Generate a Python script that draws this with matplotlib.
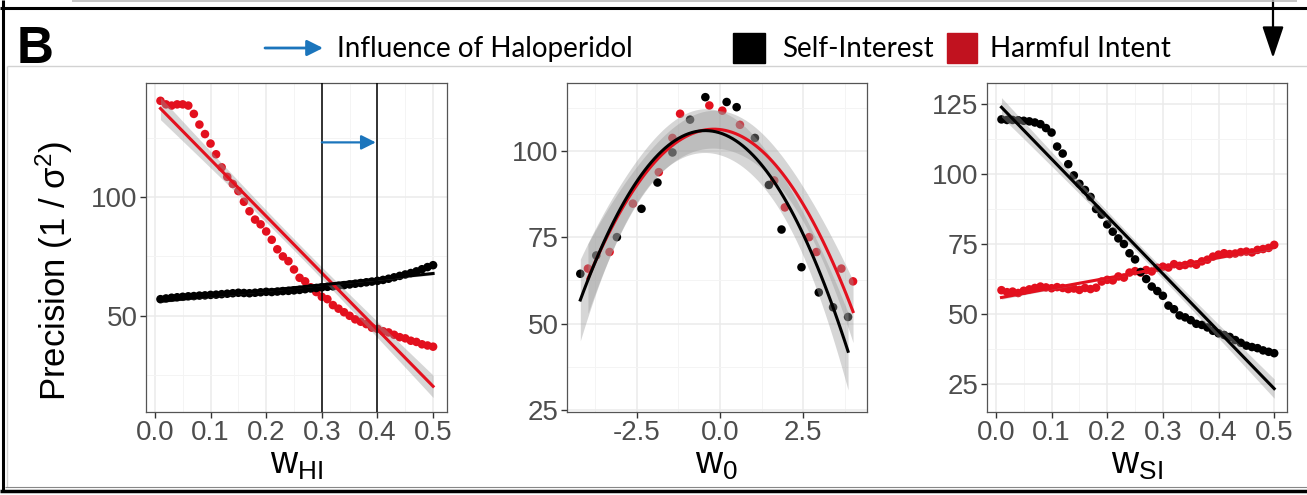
import numpy as np
import matplotlib
matplotlib.use('Agg')
import matplotlib.pyplot as plt
from matplotlib.lines import Line2D
from matplotlib.patches import Rectangle, FancyArrowPatch

# weights used in the outer panels
w_grid = [0.01, 0.02, 0.03, 0.04, 0.05, 0.06, 0.07, 0.08, 0.09, 0.10,
          0.11, 0.12, 0.13, 0.14, 0.15, 0.16, 0.17, 0.18, 0.19, 0.20,
          0.21, 0.22, 0.23, 0.24, 0.25, 0.26, 0.27, 0.28, 0.29, 0.30,
          0.31, 0.32, 0.33, 0.34, 0.35, 0.36, 0.37, 0.38, 0.39, 0.40,
          0.41, 0.42, 0.43, 0.44, 0.45, 0.46, 0.47, 0.48, 0.49, 0.50]

# panel 1: precision vs w_HI
hi_red = [140.5, 139, 138.5, 139, 139, 138.5, 135, 130.5, 126.5, 122.5,
          118, 112.5, 108.5, 105.5, 102.5, 98, 94, 90.5, 88.5, 85.5,
          82, 78, 75, 73, 69.5, 66, 64.5, 62, 60, 58,
          57, 54.5, 53, 51.5, 50, 48.5, 47.5, 46.5, 45, 44.5,
          43.5, 43, 42, 41, 40.5, 39.5, 39, 38, 37.5, 37]
hi_black = [57, 57.3, 57.6, 57.8, 58, 58.2, 58.3, 58.5, 58.6, 58.8,
            58.9, 59.1, 59.3, 59.5, 59.7, 59.6, 59.5, 59.7, 59.9, 60.1,
            60, 60.2, 60.4, 60.5, 60.7, 60.9, 61.2, 61.5, 61.7, 62,
            62.2, 62.4, 62.6, 62.9, 63.2, 63.5, 63.8, 64.1, 64.4, 64.7,
            65.1, 65.6, 66.2, 66.8, 67.4, 68, 68.7, 69.6, 70.5, 71.3]

# panel 2: precision vs w_0
w0_black_x = [-4.2, -3.72, -3.1, -2.36, -1.88, -1.43, -0.9, -0.44, 0.2, 0.5,
              1.05, 1.47, 1.85, 2.45, 2.97, 3.4, 3.85]
w0_black_y = [64.4, 69.7, 75, 83.2, 90.8, 99.5, 109, 115.5, 114.1, 112.6,
              103.7, 90.1, 77.2, 66.3, 59, 54.7, 51.9]
w0_red_x = [-3.97, -3.32, -2.62, -1.84, -1.43, -1.2, -0.32, 0.07, 0.6, 1.63,
            1.95, 2.68, 2.9, 3.65, 4.0]
w0_red_y = [65.9, 70.7, 84.7, 93.8, 103.7, 110.7, 113.1, 111.6, 107.5, 91.4,
            83.6, 75, 70.7, 65.9, 62.2]

# panel 3: precision vs w_SI
si_black = [119.5, 119.3, 119.3, 119.2, 119, 118.8, 118.4, 117.8, 116.4, 114.8,
            109.8, 107.3, 103.5, 99.5, 96.5, 94.3, 91.8, 87.5, 85.5, 82,
            79.4, 77, 75, 71.7, 69.5, 65, 62.5, 59.8, 58.2, 56.5,
            53, 51.7, 49.5, 48.8, 47.8, 46.5, 46.1, 45.2, 44, 43.1,
            42.5, 41.8, 40.7, 39.7, 38.7, 38.2, 37.8, 37, 36.5, 36]
si_red = [58.5, 57.8, 58, 57.5, 58.3, 58.8, 59.3, 59.8, 59.5, 59.2,
          59.6, 59.3, 58.9, 59.1, 58.6, 59.3, 58.9, 59.4, 61.6, 62.2,
          62, 63.4, 63, 64.8, 65.3, 64.8, 65.7, 65.2, 66.5, 66.9,
          66.6, 67.8, 67.2, 67.5, 68.1, 67.6, 68.8, 69.4, 70.5, 71.2,
          71.7, 71.4, 71.6, 72.1, 72.3, 72, 72.9, 73.2, 73.6, 74.7]

RED = '#E3101E'
LEGEND_RED = '#C1121F'
BLUE = '#1B75BC'
W, H = 1307, 495

plt.rcParams['font.family'] = ['Liberation Sans', 'DejaVu Sans']
plt.rcParams['mathtext.fontset'] = 'custom'
plt.rcParams['mathtext.rm'] = 'Liberation Sans'
plt.rcParams['mathtext.it'] = 'Liberation Sans'


def fit_band(x, y, deg, n=80):
    # least squares polynomial fit with a 95% band, like geom_smooth(method='lm')
    x = np.asarray(x, float)
    y = np.asarray(y, float)
    X = np.vander(x, deg + 1)
    coef = np.linalg.lstsq(X, y, rcond=None)[0]
    resid = y - X @ coef
    df = len(x) - (deg + 1)
    cov = (resid @ resid / df) * np.linalg.inv(X.T @ X)
    xs = np.linspace(x.min(), x.max(), n)
    Xs = np.vander(xs, deg + 1)
    fit = Xs @ coef
    se = np.sqrt(np.einsum('ij,jk,ik->i', Xs, cov, Xs))
    t = 1.96 + 2.4 / df
    return xs, fit, fit - t * se, fit + t * se


def style(ax, xlim, ylim, xmaj, ymaj, xmin, ymin):
    ax.set_xlim(*xlim)
    ax.set_ylim(*ylim)
    ax.set_xticks(xmaj)
    ax.set_yticks(ymaj)
    ax.set_xticks(xmin, minor=True)
    ax.set_yticks(ymin, minor=True)
    ax.grid(which='major', color='#EBEBEB', lw=1.1, zorder=0)
    ax.grid(which='minor', color='#F4F4F4', lw=0.7, zorder=0)
    ax.set_axisbelow(True)
    ax.tick_params(which='major', length=4, width=1, color='#333333',
                   labelsize=20, labelcolor='#4D4D4D', pad=2)
    ax.tick_params(which='minor', length=0)
    for s in ax.spines.values():
        s.set_color('#555555')
        s.set_linewidth(0.9)


def draw_series(ax, x, y, color):
    ax.scatter(x, y, s=38, color=color, edgecolors='none', zorder=2)


def draw_fit(ax, x, y, color, deg):
    xs, fit, lo, hi = fit_band(x, y, deg)
    ax.fill_between(xs, lo, hi, color='#999999', alpha=0.4, lw=0, zorder=3)
    ax.plot(xs, fit, color=color, lw=2.2, zorder=4)


fig = plt.figure(figsize=(W / 100, H / 100), dpi=100)


def fx(px):
    return px / W


def fy(py):
    return 1 - py / H


ax_y, ax_h = fy(412), (412 - 83) / H
ax1 = fig.add_axes([fx(146), ax_y, 301 / W, ax_h])
ax2 = fig.add_axes([fx(567), ax_y, 300 / W, ax_h])
ax3 = fig.add_axes([fx(987), ax_y, 300 / W, ax_h])

# panel 1
style(ax1, (-0.016, 0.525), (9.5, 148), [0, 0.1, 0.2, 0.3, 0.4, 0.5], [50, 100],
      [0.05, 0.15, 0.25, 0.35, 0.45], [25, 75, 125])
ax1.set_xticklabels(['0.0', '0.1', '0.2', '0.3', '0.4', '0.5'])
draw_series(ax1, w_grid, hi_red, RED)
draw_series(ax1, w_grid, hi_black, 'black')
draw_fit(ax1, w_grid, hi_red, RED, 1)
draw_fit(ax1, w_grid, hi_black, 'black', 1)
for v in (0.3, 0.4):
    ax1.axvline(v, color='black', lw=1.1, zorder=5)
ax1.annotate('', xy=(0.397, 123), xytext=(0.3, 123),
             arrowprops=dict(arrowstyle='-|>', color=BLUE, lw=1.6,
                             mutation_scale=22, shrinkA=0, shrinkB=0), zorder=6)
ax1.set_xlabel(r'$\mathregular{w_{HI}}$', fontsize=27, labelpad=0)
ax1.set_ylabel('Precision (1 / σ$^{2}$)', fontsize=25)
ax1.yaxis.set_label_coords(-0.235, 0.43)

# panel 2
style(ax2, (-4.6, 4.42), (24.4, 119.6), [-2.5, 0, 2.5], [25, 50, 75, 100],
      [-3.75, -1.25, 1.25, 3.75], [37.5, 62.5, 87.5, 112.5])
ax2.set_xticklabels(['-2.5', '0.0', '2.5'])
draw_series(ax2, w0_red_x, w0_red_y, RED)
draw_series(ax2, w0_black_x, w0_black_y, 'black')
draw_fit(ax2, w0_red_x, w0_red_y, RED, 2)
draw_fit(ax2, w0_black_x, w0_black_y, 'black', 2)
ax2.set_xlabel(r'$\mathregular{w_{0}}$', fontsize=27, labelpad=0)

# panel 3
style(ax3, (-0.016, 0.523), (15, 132.5), [0, 0.1, 0.2, 0.3, 0.4, 0.5],
      [25, 50, 75, 100, 125], [0.05, 0.15, 0.25, 0.35, 0.45],
      [37.5, 62.5, 87.5, 112.5])
ax3.set_xticklabels(['0.0', '0.1', '0.2', '0.3', '0.4', '0.5'])
draw_series(ax3, w_grid, si_red, RED)
draw_series(ax3, w_grid, si_black, 'black')
draw_fit(ax3, w_grid, si_red, RED, 1)
draw_fit(ax3, w_grid, si_black, 'black', 1)
ax3.set_xlabel(r'$\mathregular{w_{SI}}$', fontsize=27, labelpad=0)


# frame lines around the figure panel
def fline(x0, y0, x1, y1, color='black', lw=2.0):
    fig.add_artist(Line2D([fx(x0), fx(x1)], [fy(y0), fy(y1)], color=color,
                          lw=lw, transform=fig.transFigure, solid_capstyle='butt'))


fline(72, 1, 1297, 1, color='#BBBBBB', lw=1.2)
fline(0, 7.5, W, 7.5, lw=2.2)
fline(3, 0, 3, 491, lw=2.2)
fline(7, 66, W, 66, color='#D2D2D2', lw=1.0)
fline(7, 66, 7, 487, color='#D2D2D2', lw=1.0)
fline(0, 491, W, 491, lw=2.5)
fline(5, 487, W, 487, color='#888888', lw=0.8)
fig.add_artist(FancyArrowPatch((fx(1273), fy(0)), (fx(1273), fy(58)),
                               transform=fig.transFigure,
                               arrowstyle='-|>,head_length=0.65,head_width=0.22',
                               mutation_scale=30, color='black', lw=1.6,
                               shrinkA=0, shrinkB=0))

# panel letter and legend
fig.text(fx(17), fy(63), 'B', fontsize=37, fontweight='bold',
         family='Liberation Sans', va='baseline', ha='left')
fig.add_artist(FancyArrowPatch((fx(265), fy(48)), (fx(323), fy(48)),
                               transform=fig.transFigure, arrowstyle='-|>',
                               mutation_scale=24, color=BLUE, lw=2.0,
                               shrinkA=0, shrinkB=0))
fig.text(fx(337), fy(57), 'Influence of Haloperidol', fontsize=20,
         family='Lato', va='baseline', ha='left')
fig.add_artist(Rectangle((fx(733), fy(63)), 32 / W, 30 / H, color='black',
                         transform=fig.transFigure))
fig.text(fx(782), fy(57), 'Self-Interest', fontsize=20, family='Lato',
         va='baseline', ha='left')
fig.add_artist(Rectangle((fx(947), fy(63)), 30 / W, 30 / H, color=LEGEND_RED,
                         transform=fig.transFigure))
fig.text(fx(990), fy(57), 'Harmful Intent', fontsize=20, family='Lato',
         va='baseline', ha='left')

fig.savefig('out.png', dpi=100)
